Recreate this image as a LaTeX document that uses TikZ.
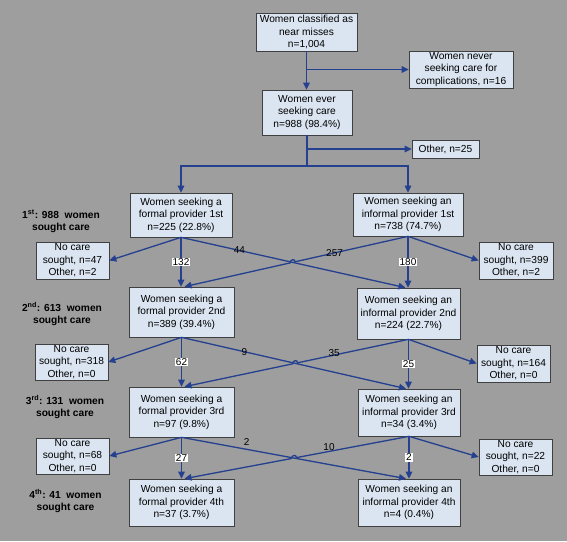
\documentclass[tikz,border=0pt]{standalone}
\usepackage{fontspec}
\setmainfont{Liberation Sans}
\usetikzlibrary{arrows.meta,calc}
\definecolor{bggray}{RGB}{158,158,158}
\definecolor{boxblue}{RGB}{219,229,241}
\definecolor{linkblue}{RGB}{36,64,142}

\begin{document}
\begin{tikzpicture}[x=1pt,y=-1pt,>={Triangle[length=7pt,width=6.5pt]},
    box/.style={draw=black!75,fill=boxblue,line width=0.7pt,align=center,inner sep=1pt,
                font=\fontsize{10.2}{12.4}\selectfont},
    prov box/.style={box,minimum width=105pt,minimum height=49pt},
    side box/.style={box,minimum width=73pt,minimum height=37pt},
    level label/.style={align=center,font=\bfseries\fontsize{10.2}{12}\selectfont},
    link/.style={draw=linkblue,line width=1.3pt},
    num/.style={fill=white,inner sep=0.8pt,font=\fontsize{10}{12}\selectfont},
    diag num/.style={inner sep=1pt,font=\fontsize{10}{12}\selectfont}]
  \fill[bggray] (0,0) rectangle (567,541);

  % top of the chart
  \node[box,minimum width=101pt,minimum height=38pt] (top) at (306.5,32) {Women classified as\\near misses\\n=1,004};
  \node[box,minimum width=104pt,minimum height=37pt] (never) at (461,69.5) {Women never\\seeking care for\\complications, n=16};
  \node[box,minimum width=90pt,minimum height=45pt] (ever) at (307,112.5) {Women ever\\seeking care\\n=988 (98.4\%)};
  \node[box,minimum width=67pt,minimum height=18pt] (other) at (445.5,149) {Other, n=25};

  % providers
  \node[box,minimum width=102pt,minimum height=44pt] (f1) at (181,215) {Women seeking a\\formal provider 1st\\n=225 (22.8\%)};
  \node[box,minimum width=110pt,minimum height=43pt] (i1) at (408,214.5) {Women seeking an\\informal provider 1st\\n=738 (74.7\%)};
  \node[prov box,minimum height=50pt] (f2) at (181.5,312) {Women seeking a\\formal provider 2nd\\n=389 (39.4\%)};
  \node[prov box,minimum width=103pt,minimum height=51pt] (i2) at (408.5,313.5) {Women seeking an\\informal provider 2nd\\n=224 (22.7\%)};
  \node[prov box,minimum height=50pt] (f3) at (181.5,412) {Women seeking a\\formal provider 3rd\\n=97 (9.8\%)};
  \node[prov box,minimum width=102pt,minimum height=47pt] (i3) at (409,412.5) {Women seeking an\\informal provider 3rd\\n=34 (3.4\%)};
  \node[prov box,minimum height=47pt] (f4) at (181.5,502.5) {Women seeking a\\formal provider 4th\\n=37 (3.7\%)};
  \node[prov box,minimum width=102pt,minimum height=47pt] (i4) at (409,502.5) {Women seeking an\\informal provider 4th\\n=4 (0.4\%)};

  % no care boxes
  \node[side box] (nl1) at (72.5,260.5) {No care\\sought, n=47\\Other, n=2};
  \node[side box,minimum width=74pt] (nr1) at (516,260.5) {No care\\sought, n=399\\Other, n=2};
  \node[side box,minimum height=36pt] (nl2) at (71.5,362) {No care\\sought, n=318\\Other, n=0};
  \node[side box] (nr2) at (513.5,363.5) {No care\\sought, n=164\\Other, n=0};
  \node[side box,minimum height=36pt] (nl3) at (72.5,456) {No care\\sought, n=68\\Other, n=0};
  \node[side box,minimum height=36pt] (nr3) at (515.5,457) {No care\\sought, n=22\\Other, n=0};

  % level labels
  \node[level label] (l1) at (61,221) {1\textsuperscript{st}: 988~ women\\sought care};
  \node[level label] (l2) at (62,314) {2\textsuperscript{nd}: 613~ women\\sought care};
  \node[level label] (l3) at (65,407) {3\textsuperscript{rd}: 131~ women\\sought care};
  \node[level label] (l4) at (65.5,501) {4\textsuperscript{th}: 41~ women\\sought care};

  % first split
  \coordinate (b0) at (top.south |- never.west);
  \draw[link,->] (top.south) -- (top.south |- ever.north);
  \draw[link,->] (b0) -- (never.west);
  \coordinate (b1) at (ever.south |- other.west);
  \coordinate (split) at (307,166);
  \draw[link] (ever.south) -- (split);
  \draw[link,->] (split) -| (f1.north);
  \draw[link,->] (split) -| (i1.north);
  \draw[link,->] (b1) -- (other.west);

  % 1st -> 2nd
  \coordinate (f2r) at ([xshift=3pt]f2.north);
  \coordinate (i2l) at ([xshift=-3pt]i2.north);
  \draw[link,->] (f1.south) -- (nl1.east);
  \draw[link,->] (f1.south) -- node[num] (c132) {132} (f1.south |- f2.north);
  \draw[link,->] (f1.south) -- node[diag num,pos=0.26] (c44) {44} (i2l);
  \draw[link,->] (i1.south) -- (nr1.west);
  \draw[link,->] (i1.south) -- node[num] (c180) {180} (i1.south |- i2.north);
  \coordinate (x1) at (intersection of f1.south--i2l and i1.south--f2r);
  \coordinate (x1a) at ($(x1)!2.5pt!(i1.south)$);
  \coordinate (x1b) at ($(x1)!2.5pt!(f2r)$);
  \draw[link,->] (i1.south) -- node[diag num,pos=0.65] (c257) {257} (x1a)
    .. controls ([yshift=3.5pt]x1a) and ([yshift=3.5pt]x1b) .. (x1b) -- (f2r);

  % 2nd -> 3rd
  \coordinate (f3r) at ([xshift=3pt]f3.north);
  \coordinate (i3l) at ([xshift=-3pt]i3.north);
  \draw[link,->] (f2.south) -- (nl2.east);
  \draw[link,->] (f2.south) -- node[num] (c62) {62} (f2.south |- f3.north);
  \draw[link,->] (f2.south) -- node[diag num,pos=0.28] (c9) {9} (i3l);
  \draw[link,->] (i2.south) -- (nr2.west);
  \draw[link,->] (i2.south) -- node[num] (c25) {25} (i2.south |- i3.north);
  \coordinate (x2) at (intersection of f2.south--i3l and i2.south--f3r);
  \coordinate (x2a) at ($(x2)!2.5pt!(i2.south)$);
  \coordinate (x2b) at ($(x2)!2.5pt!(f3r)$);
  \draw[link,->] (i2.south) -- node[diag num,pos=0.67,yshift=2pt] (c35) {35} (x2a)
    .. controls ([yshift=3.5pt]x2a) and ([yshift=3.5pt]x2b) .. (x2b) -- (f3r);

  % 3rd -> 4th
  \coordinate (f4r) at ([xshift=3pt]f4.north);
  \coordinate (i4l) at ([xshift=-3pt]i4.north);
  \draw[link,->] (f3.south) -- (nl3.east);
  \draw[link,->] (f3.south) -- node[num] (c27) {27} (f3.south |- f4.north);
  \draw[link,->] (f3.south) -- node[diag num,pos=0.29,yshift=7pt] (c2a) {2} (i4l);
  \draw[link,->] (i3.south) -- (nr3.west);
  \draw[link,->] (i3.south) -- node[num] (c2b) {2} (i3.south |- i4.north);
  \coordinate (x3) at (intersection of f3.south--i4l and i3.south--f4r);
  \coordinate (x3a) at ($(x3)!2.5pt!(i3.south)$);
  \coordinate (x3b) at ($(x3)!2.5pt!(f4r)$);
  \draw[link,->] (i3.south) -- node[diag num,pos=0.71,yshift=4pt] (c10) {10} (x3a)
    .. controls ([yshift=3.5pt]x3a) and ([yshift=3.5pt]x3b) .. (x3b) -- (f4r);
\end{tikzpicture}
\end{document}
